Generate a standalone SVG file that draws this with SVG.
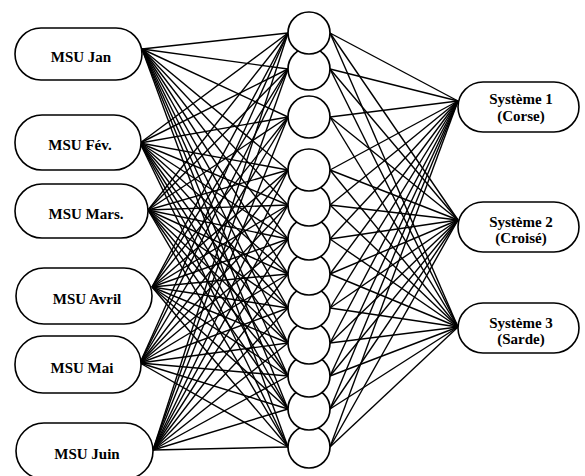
<svg xmlns="http://www.w3.org/2000/svg" width="585" height="476" viewBox="0 0 585 476">
<style>
.c{stroke:#000;stroke-width:1.4;fill:none}
.box{fill:#fff;stroke:#000;stroke-width:1.6}
.hid{fill:#fff;stroke:#000;stroke-width:1.7}
.t{font-family:"Liberation Serif","Times New Roman",serif;font-weight:bold;font-size:15px;fill:#000;text-anchor:middle}
.t2{font-family:"Liberation Serif","Times New Roman",serif;font-weight:bold;font-size:15px;fill:#000;text-anchor:middle}
</style>
<rect width="585" height="476" fill="#fff"/>
<g id="connectors">
<line class="c" x1="142" y1="49" x2="288" y2="33"/><line class="c" x1="142" y1="49" x2="288" y2="69"/><line class="c" x1="142" y1="49" x2="288" y2="117"/><line class="c" x1="142" y1="49" x2="288" y2="170"/><line class="c" x1="142" y1="49" x2="288" y2="205"/><line class="c" x1="142" y1="49" x2="288" y2="239"/><line class="c" x1="142" y1="49" x2="288" y2="274"/><line class="c" x1="142" y1="49" x2="288" y2="308"/><line class="c" x1="142" y1="49" x2="288" y2="343"/><line class="c" x1="142" y1="49" x2="288" y2="376"/><line class="c" x1="142" y1="49" x2="288" y2="409"/><line class="c" x1="142" y1="49" x2="288" y2="447"/>
<line class="c" x1="140" y1="143" x2="288" y2="33"/><line class="c" x1="140" y1="143" x2="288" y2="69"/><line class="c" x1="140" y1="143" x2="288" y2="117"/><line class="c" x1="140" y1="143" x2="288" y2="170"/><line class="c" x1="140" y1="143" x2="288" y2="205"/><line class="c" x1="140" y1="143" x2="288" y2="239"/><line class="c" x1="140" y1="143" x2="288" y2="274"/><line class="c" x1="140" y1="143" x2="288" y2="308"/><line class="c" x1="140" y1="143" x2="288" y2="343"/><line class="c" x1="140" y1="143" x2="288" y2="376"/><line class="c" x1="140" y1="143" x2="288" y2="409"/><line class="c" x1="140" y1="143" x2="288" y2="447"/>
<line class="c" x1="148" y1="210" x2="288" y2="33"/><line class="c" x1="148" y1="210" x2="288" y2="69"/><line class="c" x1="148" y1="210" x2="288" y2="117"/><line class="c" x1="148" y1="210" x2="288" y2="170"/><line class="c" x1="148" y1="210" x2="288" y2="205"/><line class="c" x1="148" y1="210" x2="288" y2="239"/><line class="c" x1="148" y1="210" x2="288" y2="274"/><line class="c" x1="148" y1="210" x2="288" y2="308"/><line class="c" x1="148" y1="210" x2="288" y2="343"/><line class="c" x1="148" y1="210" x2="288" y2="376"/><line class="c" x1="148" y1="210" x2="288" y2="409"/><line class="c" x1="148" y1="210" x2="288" y2="447"/>
<line class="c" x1="152" y1="287" x2="288" y2="33"/><line class="c" x1="152" y1="287" x2="288" y2="69"/><line class="c" x1="152" y1="287" x2="288" y2="117"/><line class="c" x1="152" y1="287" x2="288" y2="170"/><line class="c" x1="152" y1="287" x2="288" y2="205"/><line class="c" x1="152" y1="287" x2="288" y2="239"/><line class="c" x1="152" y1="287" x2="288" y2="274"/><line class="c" x1="152" y1="287" x2="288" y2="308"/><line class="c" x1="152" y1="287" x2="288" y2="343"/><line class="c" x1="152" y1="287" x2="288" y2="376"/><line class="c" x1="152" y1="287" x2="288" y2="409"/><line class="c" x1="152" y1="287" x2="288" y2="447"/>
<line class="c" x1="140" y1="363" x2="288" y2="33"/><line class="c" x1="140" y1="363" x2="288" y2="69"/><line class="c" x1="140" y1="363" x2="288" y2="117"/><line class="c" x1="140" y1="363" x2="288" y2="170"/><line class="c" x1="140" y1="363" x2="288" y2="205"/><line class="c" x1="140" y1="363" x2="288" y2="239"/><line class="c" x1="140" y1="363" x2="288" y2="274"/><line class="c" x1="140" y1="363" x2="288" y2="308"/><line class="c" x1="140" y1="363" x2="288" y2="343"/><line class="c" x1="140" y1="363" x2="288" y2="376"/><line class="c" x1="140" y1="363" x2="288" y2="409"/><line class="c" x1="140" y1="363" x2="288" y2="447"/>
<line class="c" x1="153" y1="450" x2="288" y2="33"/><line class="c" x1="153" y1="450" x2="288" y2="69"/><line class="c" x1="153" y1="450" x2="288" y2="117"/><line class="c" x1="153" y1="450" x2="288" y2="170"/><line class="c" x1="153" y1="450" x2="288" y2="205"/><line class="c" x1="153" y1="450" x2="288" y2="239"/><line class="c" x1="153" y1="450" x2="288" y2="274"/><line class="c" x1="153" y1="450" x2="288" y2="308"/><line class="c" x1="153" y1="450" x2="288" y2="343"/><line class="c" x1="153" y1="450" x2="288" y2="376"/><line class="c" x1="153" y1="450" x2="288" y2="409"/><line class="c" x1="153" y1="450" x2="288" y2="447"/>
<line class="c" x1="330" y1="33" x2="458" y2="101"/><line class="c" x1="330" y1="33" x2="458" y2="220"/><line class="c" x1="330" y1="33" x2="458" y2="327"/>
<line class="c" x1="330" y1="69" x2="458" y2="101"/><line class="c" x1="330" y1="69" x2="458" y2="220"/><line class="c" x1="330" y1="69" x2="458" y2="327"/>
<line class="c" x1="330" y1="117" x2="458" y2="101"/><line class="c" x1="330" y1="117" x2="458" y2="220"/><line class="c" x1="330" y1="117" x2="458" y2="327"/>
<line class="c" x1="330" y1="170" x2="458" y2="101"/><line class="c" x1="330" y1="170" x2="458" y2="220"/><line class="c" x1="330" y1="170" x2="458" y2="327"/>
<line class="c" x1="330" y1="205" x2="458" y2="101"/><line class="c" x1="330" y1="205" x2="458" y2="220"/><line class="c" x1="330" y1="205" x2="458" y2="327"/>
<line class="c" x1="330" y1="239" x2="458" y2="101"/><line class="c" x1="330" y1="239" x2="458" y2="220"/><line class="c" x1="330" y1="239" x2="458" y2="327"/>
<line class="c" x1="330" y1="274" x2="458" y2="101"/><line class="c" x1="330" y1="274" x2="458" y2="220"/><line class="c" x1="330" y1="274" x2="458" y2="327"/>
<line class="c" x1="330" y1="308" x2="458" y2="101"/><line class="c" x1="330" y1="308" x2="458" y2="220"/><line class="c" x1="330" y1="308" x2="458" y2="327"/>
<line class="c" x1="330" y1="343" x2="458" y2="101"/><line class="c" x1="330" y1="343" x2="458" y2="220"/><line class="c" x1="330" y1="343" x2="458" y2="327"/>
<line class="c" x1="330" y1="376" x2="458" y2="101"/><line class="c" x1="330" y1="376" x2="458" y2="220"/><line class="c" x1="330" y1="376" x2="458" y2="327"/>
<line class="c" x1="330" y1="409" x2="458" y2="101"/><line class="c" x1="330" y1="409" x2="458" y2="220"/><line class="c" x1="330" y1="409" x2="458" y2="327"/>
<line class="c" x1="330" y1="447" x2="458" y2="101"/><line class="c" x1="330" y1="447" x2="458" y2="220"/><line class="c" x1="330" y1="447" x2="458" y2="327"/>
</g>
<g id="in-jan"><rect class="box" x="15" y="28" width="127" height="52" rx="26" ry="26"/><text class="t" x="81" y="62">MSU Jan</text></g>
<g id="in-fev"><rect class="box" x="15" y="115" width="126" height="55" rx="27" ry="27"/><text class="t" x="80" y="150">MSU Fév.</text></g>
<g id="in-mars"><rect class="box" x="15" y="184" width="133" height="54" rx="27" ry="27"/><text class="t" x="86" y="219">MSU Mars.</text></g>
<g id="in-avril"><rect class="box" x="16" y="268" width="136" height="56" rx="28" ry="28"/><text class="t" x="87" y="304">MSU Avril</text></g>
<g id="in-mai"><rect class="box" x="15" y="336" width="126" height="57" rx="28" ry="28"/><text class="t" x="82" y="373">MSU Mai</text></g>
<g id="in-juin"><rect class="box" x="16" y="423" width="137" height="56" rx="28" ry="28"/><text class="t" x="87" y="459">MSU Juin</text></g>
<g id="hidden">
<g id="h12"><circle class="hid" cx="309" cy="447" r="21"/></g>
<g id="h11"><circle class="hid" cx="309" cy="409" r="21"/></g>
<g id="h10"><circle class="hid" cx="309" cy="376" r="21"/></g>
<g id="h9"><circle class="hid" cx="309" cy="343" r="21"/></g>
<g id="h8"><circle class="hid" cx="309" cy="308" r="21"/></g>
<g id="h7"><circle class="hid" cx="309" cy="274" r="21"/></g>
<g id="h6"><circle class="hid" cx="309" cy="239" r="21"/></g>
<g id="h5"><circle class="hid" cx="309" cy="205" r="21"/></g>
<g id="h4"><circle class="hid" cx="309" cy="170" r="21"/></g>
<g id="h3"><circle class="hid" cx="309" cy="117" r="21"/></g>
<g id="h2"><circle class="hid" cx="309" cy="69" r="21"/></g>
<g id="h1"><circle class="hid" cx="309" cy="33" r="21"/></g>
</g>
<g id="out-1"><rect class="box" x="458" y="82" width="121" height="50" rx="25" ry="25"/><text class="t2" x="521" y="104">Système 1</text><text class="t2" x="521" y="121">(Corse)</text></g>
<g id="out-2"><rect class="box" x="458" y="202" width="121" height="50" rx="25" ry="25"/><text class="t2" x="521" y="227">Système 2</text><text class="t2" x="521" y="243">(Croisé)</text></g>
<g id="out-3"><rect class="box" x="458" y="303" width="121" height="50" rx="25" ry="25"/><text class="t2" x="521" y="328">Système 3</text><text class="t2" x="521" y="344">(Sarde)</text></g>
</svg>
